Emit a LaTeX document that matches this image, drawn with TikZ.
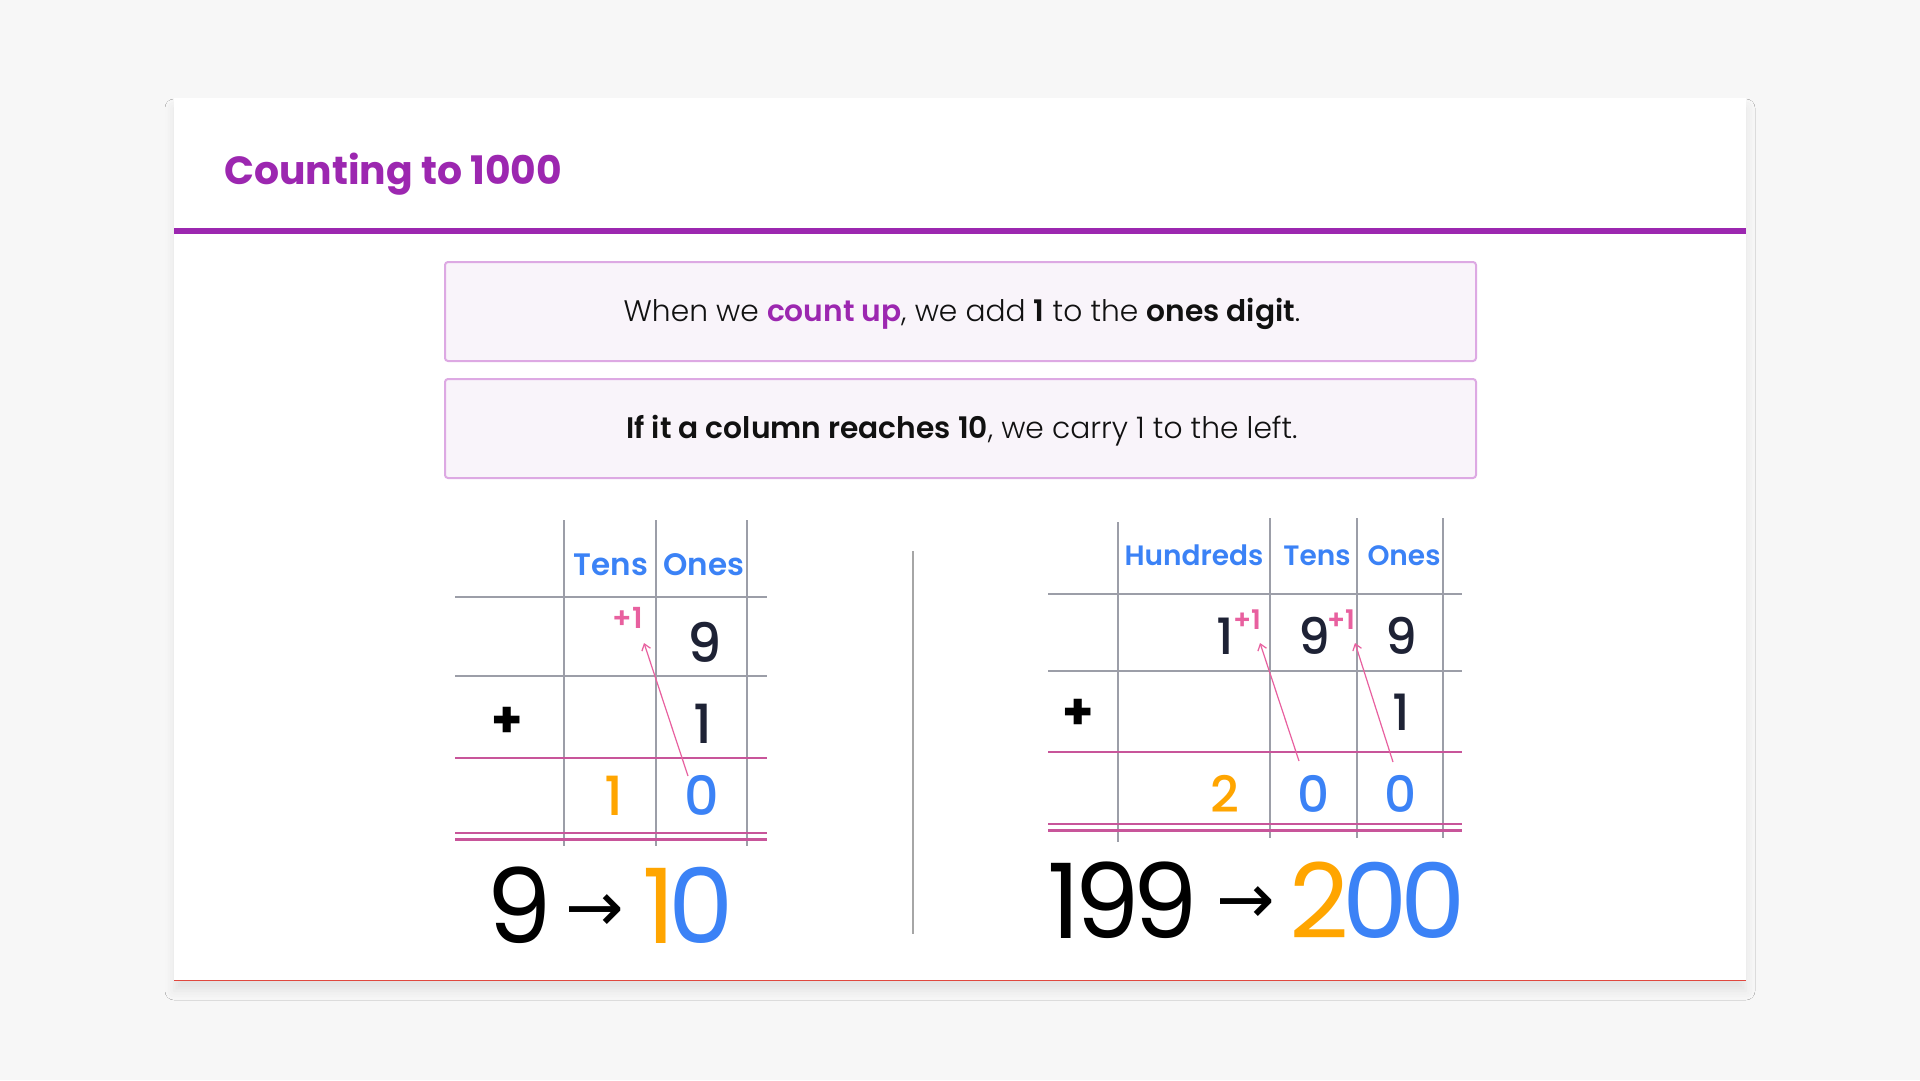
\documentclass[tikz,border=0pt]{standalone}
\usepackage{fontspec}
\usetikzlibrary{arrows.meta,shadows.blur}
\setmainfont{Poppins}
\IfFontExistsTF{Poppins Light}{\newfontfamily\plight{Poppins Light}}{\newcommand\plight{\mdseries}}
\IfFontExistsTF{Poppins SemiBold}{\newfontfamily\psemi{Poppins SemiBold}}{\newcommand\psemi{\bfseries}}
\IfFontExistsTF{Poppins Medium}{\newfontfamily\pmed{Poppins Medium}}{\newcommand\pmed{\mdseries}}
\newfontfamily\djv{DejaVu Sans}
\newcommand\fsz[1]{\fontsize{#1}{#1}\selectfont}
\newcommand\rarr{\iffontchar\font"2192 \symbol{"2192}\else{\djv\symbol{"2192}}\fi}
\definecolor{bgc}{HTML}{F7F7F7}
\definecolor{ttl}{HTML}{9C27B0}
\definecolor{boxf}{HTML}{F9F4FA}
\definecolor{boxd}{HTML}{DDA9E3}
\definecolor{ink}{HTML}{111111}
\definecolor{navy}{HTML}{1E2235}
\definecolor{hblue}{HTML}{3B82F6}
\definecolor{orng}{HTML}{FFA500}
\definecolor{pinkt}{HTML}{E8609F}
\definecolor{pinkl}{HTML}{C8559A}
\definecolor{gridg}{HTML}{9C9EA8}
\definecolor{sepc}{HTML}{A6A6A6}
\definecolor{redl}{HTML}{E0483E}
\tikzset{
  infobox/.style={draw=boxd, fill=boxf, line width=2pt, rounded corners=3pt, inner sep=0pt},
  btxt/.style={anchor=base, inner sep=0pt, text=ink, font=\plight\fsz{29.7}},
  hdr/.style={anchor=base, inner sep=0pt, text=hblue, font=\psemi\fsz{31}},
  hdrr/.style={hdr, font=\psemi\fsz{28}},
  dig/.style={anchor=center, inner sep=0pt, text=navy, font=\pmed\fsz{54}},
  digr/.style={dig, font=\pmed\fsz{50}},
  plussign/.style={anchor=center, inner sep=0pt, text=black, font=\bfseries\fsz{50}},
  carrytxt/.style={anchor=center, inner sep=0pt, text=pinkt, font=\psemi\fsz{27}},
  carryl/.style={carrytxt, font=\psemi\fsz{29}},
  carry/.style={draw=pinkt, line width=1.2pt, -{Straight Barb[length=6pt,width=9pt]}},
  gline/.style={draw=gridg, line width=1.5pt},
  pline/.style={draw=pinkl, line width=2.2pt},
  big/.style={anchor=base, inner sep=0pt, text=black, font=\fsz{104}},
  bigarrow/.style={anchor=base, inner sep=0pt, text=black, font=\plight\fsz{70}},
}
\begin{document}
\begin{tikzpicture}[x=1pt,y=-1pt]
\useasboundingbox (0,0) rectangle (1920,1080);
\fill[bgc] (0,0) rectangle (1920,1080);
% card
\fill[white, blur shadow={shadow xshift=0pt, shadow yshift=-10pt, shadow blur radius=9pt, shadow opacity=8}] (174,98) rectangle (1746,981);
\draw[redl, line width=1.5pt] (174,980.5) -- (1746,980.5);
\node[anchor=base west, inner sep=0pt, text=ttl, font=\bfseries\fsz{39.3}] (title) at (224,184) {Counting to 1000};
\fill[ttl] (174,228) rectangle (1746,234);
% info boxes
\node[infobox, minimum width=1031pt, minimum height=99pt] (box1) at (960.5,311.5) {};
\node[btxt] (txt1) at (962,321) {When we {\psemi\color{ttl}count up}, we add {\psemi 1} to the {\psemi ones digit}.};
\node[infobox, minimum width=1031pt, minimum height=99pt] (box2) at (960.5,428.5) {};
\node[btxt] (txt2) at (962,438) {{\psemi If it a column reaches 10}, we carry 1 to the left.};
% ---------- left table ----------
\foreach \x in {564,656,747} \draw[gline] (\x,520) -- (\x,846);
\draw[gline] (455,597) -- (767,597);
\draw[gline] (455,676) -- (767,676);
\draw[pline] (455,758) -- (767,758);
\draw[pline] (455,833) -- (767,833);
\draw[pline] (455,839.5) -- (767,839.5);
\node[hdr] (lT) at (611,575) {Tens};
\node[hdr] (lO) at (704,575) {Ones};
\node[dig] (l9) at (705,642) {9};
\node[carryl] (lc) at (628,618) {+1};
\node[plussign] (lp) at (507,722) {+};
\node[dig] (l1) at (703,724) {1};
\node[dig, text=orng] (lr1) at (614,796) {1};
\node[dig, text=hblue] (lr0) at (702,795) {0};
\coordinate (la0) at (688,776);
\coordinate (la1) at (644,643);
\draw[carry] (la0) -- (la1);
% separator
\draw[sepc, line width=2pt] (913,551) -- (913,934);
% ---------- right table ----------
\draw[gline] (1118,522) -- (1118,842);
\foreach \x in {1270,1357,1443} \draw[gline] (\x,518) -- (\x,838);
\draw[gline] (1048,594) -- (1462,594);
\draw[gline] (1048,671) -- (1462,671);
\draw[pline] (1048,752) -- (1462,752);
\draw[pline] (1048,824) -- (1462,824);
\draw[pline] (1048,830.5) -- (1462,830.5);
\node[hdrr] (rH) at (1194,565) {Hundreds};
\node[hdrr] (rT) at (1317,565) {Tens};
\node[hdrr] (rO) at (1404,565) {Ones};
\node[digr] (r1) at (1225,636) {1};
\node[carrytxt] (rc1) at (1247,620) {+1};
\node[digr] (r9a) at (1314,636) {9};
\node[carrytxt] (rc2) at (1341,620) {+1};
\node[digr] (r9b) at (1401,636) {9};
\node[plussign] (rp) at (1078,714) {+};
\node[digr] (r1b) at (1401,712) {1};
\node[digr, text=orng] (rr2) at (1225,794) {2};
\node[digr, text=hblue] (rr0a) at (1314,794) {0};
\node[digr, text=hblue] (rr0b) at (1401,794) {0};
\coordinate (ra0) at (1299,761);
\coordinate (ra1) at (1260,643);
\coordinate (rb0) at (1393,762);
\coordinate (rb1) at (1355,643);
\draw[carry] (ra0) -- (ra1);
\draw[carry] (rb0) -- (rb1);
% ---------- big results ----------
\node[big] (b9) at (519,943) {9};
\node[bigarrow] (barr1) at (595,931) {\rarr};
\node[big] (b10) at (688.5,943) {{\color{orng}1}\kern-7pt{\color{hblue}0}};
\node[big] (b199) at (1123,938) {1\kern-7pt9\kern-7pt9};
\node[bigarrow] (barr2) at (1246,923) {\rarr};
\node[big] (b200) at (1377.5,938) {{\color{orng}2}\kern-7pt{\color{hblue}0\kern-7pt0}};
\end{tikzpicture}
\end{document}
